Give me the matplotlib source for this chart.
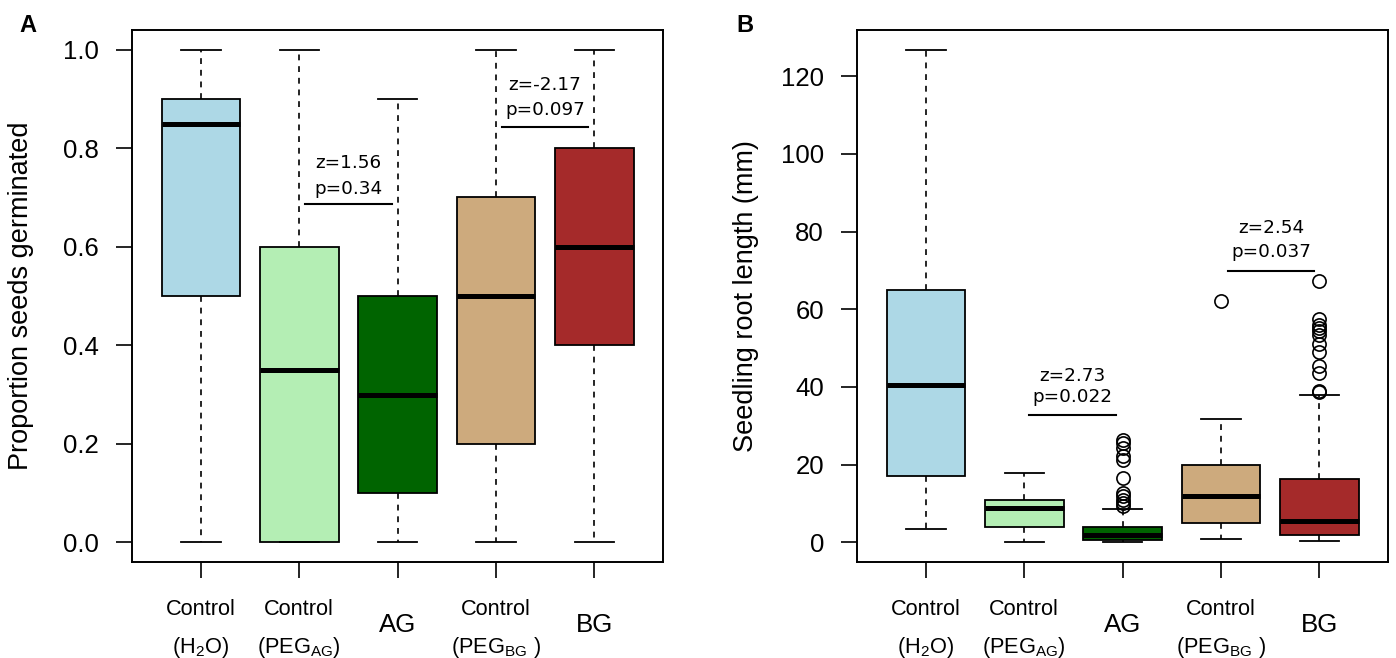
import numpy as np
import matplotlib
matplotlib.use('Agg')
import matplotlib.pyplot as plt

plt.rcParams['font.family'] = ['Liberation Sans', 'DejaVu Sans']
plt.rcParams['mathtext.default'] = 'regular'

# group labels (two lines each, second may be empty)
labels_top = ['Control', 'Control', 'AG', 'Control', 'BG']
labels_bot = ['(H$_2$O)', '(PEG$_{AG}$)', '', '(PEG$_{BG}$ )', '']
colors = ['#ADD8E6', '#B4EEB4', '#006400', '#CDAA7D', '#A52A2A']

# panel A: proportion germinated
germ_lo = [0.0, 0.0, 0.0, 0.0, 0.0]
germ_q1 = [0.5, 0.0, 0.1, 0.2, 0.4]
germ_med = [0.85, 0.35, 0.30, 0.50, 0.60]
germ_q3 = [0.9, 0.6, 0.5, 0.7, 0.8]
germ_hi = [1.0, 1.0, 0.9, 1.0, 1.0]

# panel B: root length (mm)
root_lo = [3.3, 0.1, 0.1, 0.9, 0.3]
root_q1 = [17.0, 4.0, 0.7, 5.0, 1.9]
root_med = [40.4, 8.7, 1.8, 12.0, 5.4]
root_q3 = [64.9, 10.9, 4.0, 19.9, 16.4]
root_hi = [126.8, 17.9, 8.5, 31.7, 37.8]
root_fliers = [
    [],
    [],
    [26.4, 25.6, 24.3, 22.1, 21.3, 16.6, 12.7, 11.8, 11.0, 10.1, 9.3],
    [62.2],
    [67.3, 57.4, 56.0, 55.1, 54.5, 53.4, 51.1, 48.9, 45.4, 43.6, 39.0, 38.6],
]

# comparison annotations: (x0, x1, y_line, y_z, y_p, z text, p text)
comp_a = [(2.06, 2.94, 0.687, 0.77, 0.717, 'z=1.56', 'p=0.34'),
          (4.06, 4.94, 0.844, 0.929, 0.878, 'z=-2.17', 'p=0.097')]
comp_b = [(2.05, 2.93, 32.7, 42.9, 37.5, 'z=2.73', 'p=0.022'),
          (4.07, 4.95, 69.9, 80.9, 74.7, 'z=2.54', 'p=0.037')]


def draw_panel(ax, lo, q1, med, q3, hi, fliers, comps, ymax):
    stats = []
    for i in range(5):
        stats.append(dict(whislo=lo[i], q1=q1[i], med=med[i], q3=q3[i],
                          whishi=hi[i], fliers=fliers[i]))
    pos = np.arange(1, 6)
    res = ax.bxp(stats, positions=pos, widths=0.8, capwidths=0.4,
                 patch_artist=True, showfliers=True,
                 boxprops=dict(linewidth=1.3, edgecolor='black'),
                 medianprops=dict(color='black', linewidth=3.6, solid_capstyle='butt'),
                 whiskerprops=dict(color='black', linewidth=1.2, linestyle=(0, (3.5, 3.5))),
                 capprops=dict(color='black', linewidth=1.3),
                 flierprops=dict(marker='o', markerfacecolor='none',
                                 markeredgecolor='black', markersize=9.5,
                                 markeredgewidth=1.2, linestyle='none'))
    for patch, c in zip(res['boxes'], colors):
        patch.set_facecolor(c)
    for x0, x1, yl, yz, yp, zt, pt in comps:
        ax.plot([x0, x1], [yl, yl], color='black', lw=1.5)
        xm = (x0 + x1) / 2
        ax.text(xm, yz, zt, ha='center', va='center', fontsize=13.2,
                family='DejaVu Sans')
        ax.text(xm, yp, pt, ha='center', va='center', fontsize=13.2,
                family='DejaVu Sans')
    ax.set_xlim(0.3, 5.7)
    ax.set_ylim(-0.04 * ymax, 1.04 * ymax)
    ax.set_xticks(pos)
    ax.set_xticklabels([])
    ax.tick_params(direction='out', length=11.7, width=1.2, labelsize=18.5, pad=12)
    for s in ax.spines.values():
        s.set_linewidth(1.4)
    tr = ax.get_xaxis_transform()
    for i in range(5):
        if labels_bot[i]:
            ax.text(pos[i], -0.090, labels_top[i], transform=tr, ha='center',
                    va='center', fontsize=15.7)
            ax.text(pos[i], -0.160, labels_bot[i], transform=tr, ha='center',
                    va='center', fontsize=15.7)
        else:
            ax.text(pos[i], -0.118, labels_top[i], transform=tr, ha='center',
                    va='center', fontsize=18.6)


fig = plt.figure(figsize=(13.96, 6.58), dpi=100)
ax1 = fig.add_axes([132 / 1396, 96 / 658, 531 / 1396, 532 / 658])
ax2 = fig.add_axes([857 / 1396, 96 / 658, 531 / 1396, 532 / 658])

draw_panel(ax1, germ_lo, germ_q1, germ_med, germ_q3, germ_hi,
           [[]] * 5, comp_a, 1.0)
ax1.set_yticks([0.0, 0.2, 0.4, 0.6, 0.8, 1.0])
ax1.set_yticklabels(['0.0', '0.2', '0.4', '0.6', '0.8', '1.0'])
ax1.set_ylabel('Proportion seeds germinated', fontsize=19.5)
ax1.yaxis.set_label_coords(-0.185, 0.5)

draw_panel(ax2, root_lo, root_q1, root_med, root_q3, root_hi,
           root_fliers, comp_b, 126.8)
ax2.set_yticks(np.arange(0, 121, 20))
ax2.set_ylabel('Seedling root length (mm)', fontsize=19.5)
ax2.yaxis.set_label_coords(-0.185, 0.5)

fig.text(28 / 1396, 1 - 25 / 658, 'A', fontsize=17, fontweight='bold',
         ha='center', va='center')
fig.text(745 / 1396, 1 - 25 / 658, 'B', fontsize=17, fontweight='bold',
         ha='center', va='center')

fig.savefig('out.png', dpi=100)
